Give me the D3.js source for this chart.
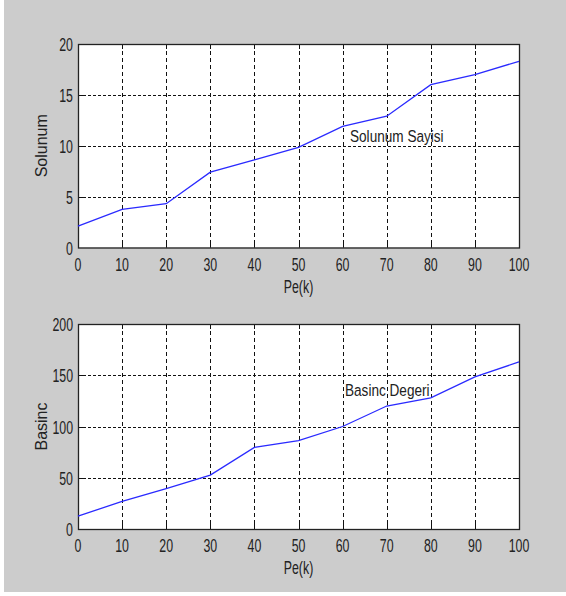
<!DOCTYPE html>
<html>
<head>
<meta charset="utf-8">
<script src="https://cdn.jsdelivr.net/npm/d3@7"></script>
<style>
  body { margin: 0; background: #ffffff; }
  svg { display: block; }
</style>
</head>
<body>
<div class="chart"></div>
<script>
// data
var peK = [0, 10, 20, 30, 40, 50, 60, 70, 80, 90, 100];
var solunum = [2.1, 3.75, 4.3, 7.4, 8.6, 9.85, 11.9, 12.9, 16.0, 17.0, 18.3];
var basinc = [12.5, 27, 39.5, 52.6, 79.6, 86.2, 100, 120, 128, 148.4, 163];
var xTicks = [0, 10, 20, 30, 40, 50, 60, 70, 80, 90, 100];
var solunumTicks = [0, 5, 10, 15, 20];
var basincTicks = [0, 50, 100, 150, 200];

var width = 566;
var height = 596;

var svg = d3.select(".chart")
  .append("svg")
  .attr("width", width)
  .attr("height", height);

// gray figure background
svg.append("rect")
  .attr("x", 4)
  .attr("y", 0)
  .attr("width", width - 4)
  .attr("height", 592)
  .attr("fill", "#cccccc");

// one subplot
function drawPlot(opts) {
  var x = d3.scaleLinear().domain([0, 100]).range([78, 519]);
  var y = d3.scaleLinear().domain(opts.yDomain).range([opts.bottom, opts.top]);

  var g = svg.append("g");

  g.append("rect")
    .attr("x", x(0))
    .attr("y", y(opts.yDomain[1]))
    .attr("width", x(100) - x(0))
    .attr("height", y(opts.yDomain[0]) - y(opts.yDomain[1]))
    .attr("fill", "white");

  // grid
  g.selectAll(".vgrid")
    .data(xTicks.slice(1, -1))
    .enter().append("line")
    .attr("x1", function(d) { return Math.round(x(d)) + 0.5; })
    .attr("x2", function(d) { return Math.round(x(d)) + 0.5; })
    .attr("y1", y(opts.yDomain[1]))
    .attr("y2", y(opts.yDomain[0]))
    .attr("stroke", "#111")
    .attr("stroke-dasharray", "4,3");

  g.selectAll(".hgrid")
    .data(opts.yTicks.slice(1, -1))
    .enter().append("line")
    .attr("x1", x(0))
    .attr("x2", x(100))
    .attr("y1", function(d) { return Math.round(y(d)) + 0.5; })
    .attr("y2", function(d) { return Math.round(y(d)) + 0.5; })
    .attr("stroke", "#111")
    .attr("stroke-dasharray", "3,2");

  // inward tick marks on all four sides
  var tk = 5;
  xTicks.slice(1, -1).forEach(function(d) {
    var xx = Math.round(x(d)) + 0.5;
    g.append("line").attr("x1", xx).attr("x2", xx)
      .attr("y1", y(opts.yDomain[0])).attr("y2", y(opts.yDomain[0]) - tk)
      .attr("stroke", "#111");
    g.append("line").attr("x1", xx).attr("x2", xx)
      .attr("y1", y(opts.yDomain[1])).attr("y2", y(opts.yDomain[1]) + tk)
      .attr("stroke", "#111");
  });
  opts.yTicks.slice(1, -1).forEach(function(d) {
    var yy = Math.round(y(d)) + 0.5;
    g.append("line").attr("x1", x(0)).attr("x2", x(0) + tk)
      .attr("y1", yy).attr("y2", yy).attr("stroke", "#111");
    g.append("line").attr("x1", x(100)).attr("x2", x(100) - tk)
      .attr("y1", yy).attr("y2", yy).attr("stroke", "#111");
  });

  // box
  g.append("rect")
    .attr("x", x(0) + 0.5)
    .attr("y", y(opts.yDomain[1]) + 0.5)
    .attr("width", x(100) - x(0))
    .attr("height", y(opts.yDomain[0]) - y(opts.yDomain[1]))
    .attr("fill", "none")
    .attr("stroke", "#222")
    .attr("stroke-width", 1.3);

  // data line
  var line = d3.line()
    .x(function(d, i) { return x(peK[i]); })
    .y(function(d) { return y(d); });

  g.append("path")
    .datum(opts.values)
    .attr("d", line)
    .attr("fill", "none")
    .attr("stroke", "#2a2aff")
    .attr("stroke-width", 1.3);

  // tick labels (narrow font)
  g.selectAll(".xlab")
    .data(xTicks)
    .enter().append("text")
    .attr("transform", function(d) {
      return "translate(" + x(d) + "," + (y(opts.yDomain[0]) + 23) + ") scale(0.65,1)";
    })
    .attr("text-anchor", "middle")
    .style("font-family", "Liberation Sans, Arial, sans-serif")
    .style("font-size", "19px")
    .style("fill", "#222")
    .text(function(d) { return d; });

  g.selectAll(".ylab")
    .data(opts.yTicks)
    .enter().append("text")
    .attr("transform", function(d) {
      return "translate(73," + (y(d) + 7) + ") scale(0.65,1)";
    })
    .attr("text-anchor", "end")
    .style("font-family", "Liberation Sans, Arial, sans-serif")
    .style("font-size", "19px")
    .style("fill", "#222")
    .text(function(d) { return d; });

  // x axis title
  g.append("text")
    .attr("transform", "translate(" + x(50) + "," + (y(opts.yDomain[0]) + 45) + ") scale(0.65,1)")
    .attr("text-anchor", "middle")
    .style("font-family", "Liberation Sans, Arial, sans-serif")
    .style("font-size", "19px")
    .style("fill", "#222")
    .text("Pe(k)");

  // y axis title
  g.append("text")
    .attr("transform", "translate(47," + ((opts.top + opts.bottom) / 2) + ") rotate(-90)")
    .attr("text-anchor", "middle")
    .style("font-family", "Liberation Sans, Arial, sans-serif")
    .style("font-size", "16px")
    .style("fill", "#222")
    .text(opts.yTitle);

  // text label inside the plot
  g.append("text")
    .attr("transform", "translate(" + opts.labelX + "," + opts.labelY + ") scale(0.8,1)")
    .style("font-family", "Liberation Sans, Arial, sans-serif")
    .style("font-size", "17px")
    .style("fill", "#222")
    .text(opts.label);
}

drawPlot({
  top: 44, bottom: 247.5,
  yDomain: [0, 20], yTicks: solunumTicks,
  values: solunum, yTitle: "Solunum",
  label: "Solunum Sayisi", labelX: 350, labelY: 142
});

drawPlot({
  top: 324, bottom: 529,
  yDomain: [0, 200], yTicks: basincTicks,
  values: basinc, yTitle: "Basinc",
  label: "Basinc Degeri", labelX: 345, labelY: 396
});
</script>
</body>
</html>
